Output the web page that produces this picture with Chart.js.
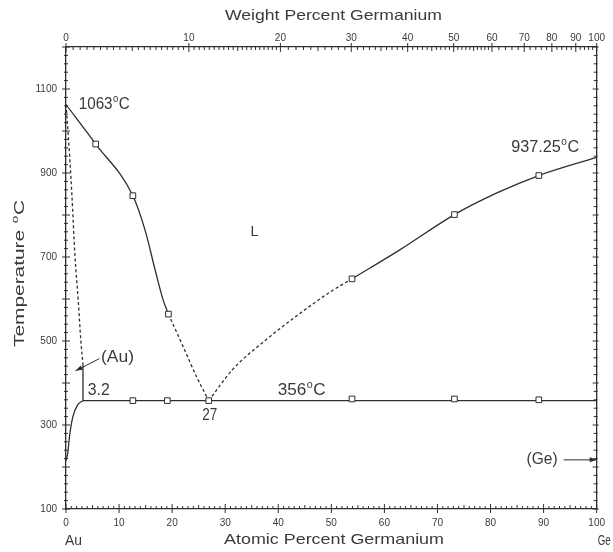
<!DOCTYPE html>
<html><head><meta charset="utf-8">
<script src="https://cdn.jsdelivr.net/npm/chart.js@4/dist/chart.umd.min.js"></script>
<style>html,body{margin:0;padding:0;background:#fff}canvas{display:block}</style>
</head><body>
<canvas id="c" width="613" height="552"></canvas>
<script>
// ---------- data (atomic % Ge, temperature °C) ----------
const liqLeftX   = [0, 5.6, 12.6, 14.9, 16.8, 18.3, 19.3];
const liqLeftT   = [1063, 969, 846, 764, 669, 598, 564];
const liqLeftDashX = [19.3, 22.1, 24.6, 26.9];
const liqLeftDashT = [564, 486, 415, 358];
const liqRightDashX = [26.9, 31.4, 37.7, 44.0, 50.3, 53.9];
const liqRightDashT = [358, 432, 503, 565, 621, 648];
const liqRightX  = [53.9, 62.9, 73.2, 81.1, 89.1, 100];
const liqRightT  = [648, 717, 801, 852, 894, 937.25];
const eutecticX  = [3.2, 100];
const eutecticT  = [358, 358];
const solvusX    = [0, 0.34, 0.66, 1.3, 2.2, 3.2];
const solvusT    = [215, 234, 273, 320, 348, 358];
const retroX     = [3.2, 3.2];
const retroT     = [358, 444];
const solidusX   = [0, 0.4, 1.1, 1.7, 2.3, 2.8, 3.2];
const solidusT   = [1063, 995, 850, 700, 598, 500, 444];
const markerX    = [5.6, 12.6, 19.3, 12.6, 19.1, 26.9, 53.9, 73.2, 89.1, 53.9, 73.2, 89.1];
const markerT    = [969, 846, 564, 358, 358, 358, 648, 801, 894, 362, 362, 360];
// tick labels
const atTicks    = [0, 10, 20, 30, 40, 50, 60, 70, 80, 90, 100];
const wtTicks    = [0, 10, 20, 30, 40, 50, 60, 70, 80, 90, 100];
const tempTicks  = [100, 300, 500, 700, 900, 1100];

// ---------- helpers ----------
const INK = '#2e2e2e';
const TXT = '#3a3a3a';
const FONT = '"Liberation Sans", Arial, sans-serif';
const pts = (xs, ts) => xs.map((x, i) => ({x, y: ts[i]}));
// weight % Ge -> atomic % Ge (Au 196.97, Ge 72.63)
const wtToAt = w => { if (w <= 0) return 0; if (w >= 100) return 100; const g = w / 72.63, a = (100 - w) / 196.97; return 100 * g / (g + a); };

const wtMinor = [];
for (let w = 0; w <= 20; w += 0.5) wtMinor.push(w);
for (let w = 21; w <= 60; w += 1) wtMinor.push(w);
for (let w = 62; w <= 100; w += 2) wtMinor.push(w);

const line = (xs, ts, dashed) => ({
  data: pts(xs, ts), showLine: true, borderColor: INK, borderWidth: 1.3,
  borderDash: dashed ? [3, 2.5] : [], pointRadius: 0, cubicInterpolationMode: 'monotone', fill: false
});

// draw text scaled horizontally to a target width; parts = [[str, sup?], ...]
function drawParts(ctx, parts, x, yMid, size, targetW, align) {
  const supSize = Math.round(size * 0.62);
  let w = 0;
  parts.forEach(([s, sup]) => { ctx.font = (sup ? supSize : size) + 'px ' + FONT; w += ctx.measureText(s).width + (sup ? 1 : 0); });
  const sx = targetW ? targetW / w : 1;
  ctx.save();
  let x0 = x;
  if (align === 'center') x0 = x - w * sx / 2;
  ctx.translate(x0, yMid);
  ctx.scale(sx, 1);
  ctx.textBaseline = 'middle';
  ctx.textAlign = 'left';
  ctx.fillStyle = TXT;
  let cx = 0;
  parts.forEach(([s, sup]) => {
    ctx.font = (sup ? supSize : size) + 'px ' + FONT;
    ctx.fillText(s, cx + (sup ? 0.5 : 0), sup ? -size * 0.32 : 0);
    cx += ctx.measureText(s).width + (sup ? 1 : 0);
  });
  ctx.restore();
}

function arrow(ctx, x1, y1, x2, y2) {
  ctx.beginPath(); ctx.moveTo(x1, y1); ctx.lineTo(x2, y2); ctx.stroke();
  const ang = Math.atan2(y2 - y1, x2 - x1), L = 7, W = 2.5;
  ctx.beginPath();
  ctx.moveTo(x2, y2);
  ctx.lineTo(x2 - L * Math.cos(ang) + W * Math.sin(ang), y2 - L * Math.sin(ang) - W * Math.cos(ang));
  ctx.lineTo(x2 - L * Math.cos(ang) - W * Math.sin(ang), y2 - L * Math.sin(ang) + W * Math.cos(ang));
  ctx.closePath(); ctx.fill();
}

const decor = {
  id: 'decor',
  afterDraw(chart) {
    const {ctx, chartArea: a, scales} = chart;
    const X = scales.x, Y = scales.y;
    const px = v => X.getPixelForValue(v), py = t => Y.getPixelForValue(t);
    ctx.save();
    ctx.strokeStyle = INK; ctx.fillStyle = INK; ctx.lineWidth = 1;
    const seg = (x1, y1, x2, y2) => { ctx.beginPath(); ctx.moveTo(x1, y1); ctx.lineTo(x2, y2); ctx.stroke(); };
    // bottom axis ticks (atomic %)
    for (let v = 0; v <= 100; v++) {
      const x = px(v), major = v % 10 === 0, mid = v % 5 === 0;
      seg(x, a.bottom + (major ? 4 : 0), x, a.bottom - (major ? 5 : mid ? 4 : 3));
    }
    // top axis ticks (weight %)
    wtMinor.forEach(w => {
      const x = px(wtToAt(w)), major = wtTicks.includes(w), mid = w % 5 === 0;
      seg(x, a.top - (major ? 4 : 0), x, a.top + (major ? 5 : mid ? 4 : 3));
    });
    // left/right temperature ticks
    for (let t = 100; t <= 1200; t += 20) {
      const y = py(t), major = t % 100 === 0;
      seg(a.left - (major ? 4 : 2), y, a.left + (major ? 4 : 2), y);
      seg(a.right - (major ? 4 : 3), y, a.right + (major ? 2 : 1), y);
    }
    // arrows
    ctx.lineWidth = 1;
    arrow(ctx, px(6.3), py(458), px(1.8), py(429));
    arrow(ctx, px(93.8), py(217), px(100), py(217));
    // annotations
    drawParts(ctx, [['1063', 0], ['o', 1], ['C', 0]], px(2.4), py(1063), 16, 51);
    drawParts(ctx, [['937.25', 0], ['o', 1], ['C', 0]], px(83.9), py(960), 16, 68);
    drawParts(ctx, [['L', 0]], px(35.5), py(760), 15, 8, 'center');
    drawParts(ctx, [['356', 0], ['o', 1], ['C', 0]], px(39.9), py(382), 16, 48);
    drawParts(ctx, [['3.2', 0]], px(4.1), py(382), 16, 22);
    drawParts(ctx, [['27', 0]], px(27.1), py(323), 16, 15, 'center');
    drawParts(ctx, [['(Au)', 0]], px(6.6), py(460), 16, 33);
    drawParts(ctx, [['(Ge)', 0]], px(86.8), py(217), 16, 31);
    // axis end labels and titles
    drawParts(ctx, [['Au', 0]], a.left - 1, a.bottom + 32, 15, 17);
    drawParts(ctx, [['Ge', 0]], a.right + 1, a.bottom + 32, 15, 13);
    drawParts(ctx, [['Atomic Percent Germanium', 0]], 224, a.bottom + 31, 15, 220);
    drawParts(ctx, [['Weight Percent Germanium', 0]], 225, 16, 15, 217);
    ctx.save();
    ctx.translate(20, 347);
    ctx.rotate(-Math.PI / 2);
    drawParts(ctx, [['Temperature ', 0], ['o', 1], ['C', 0]], 0, 0, 14, 147);
    ctx.restore();
    ctx.restore();
  }
};

new Chart(document.getElementById('c'), {
  type: 'scatter',
  data: {
    datasets: [
      { data: pts(markerX, markerT), showLine: false, pointStyle: 'rect', pointRadius: 4,
        pointBackgroundColor: '#fff', pointBorderColor: INK, pointBorderWidth: 1 },
      line(liqLeftX, liqLeftT, false),
      line(liqLeftDashX, liqLeftDashT, true),
      line(liqRightDashX, liqRightDashT, true),
      line(liqRightX, liqRightT, false),
      line(eutecticX, eutecticT, false),
      line(solvusX, solvusT, false),
      line(retroX, retroT, false),
      line(solidusX, solidusT, true)
    ]
  },
  options: {
    responsive: false, animation: false, devicePixelRatio: 1,
    layout: { padding: 0 },
    plugins: { legend: { display: false }, tooltip: { enabled: false } },
    scales: {
      x: {
        type: 'linear', position: 'bottom', min: 0, max: 100,
        afterBuildTicks: s => { s.ticks = atTicks.map(v => ({value: v})); },
        ticks: { font: { family: FONT, size: 10 }, color: TXT, padding: 8, maxRotation: 0,
                 callback: v => String(v) },
        grid: { display: false, drawTicks: false },
        border: { display: true, color: INK, width: 1.3 },
        afterFit: s => { s.height = 43; }
      },
      xTop: {
        type: 'linear', position: 'top', min: 0, max: 100,
        afterBuildTicks: s => { s.ticks = wtTicks.map(w => ({value: wtToAt(w)})); },
        ticks: { font: { family: FONT, size: 10 }, color: TXT, padding: 3, maxRotation: 0, autoSkip: false,
                 callback: (v, i) => String(wtTicks[i]) },
        grid: { display: false, drawTicks: false },
        border: { display: true, color: INK, width: 1.3 },
        afterFit: s => { s.height = 47; }
      },
      y: {
        type: 'linear', position: 'left', min: 100, max: 1200,
        afterBuildTicks: s => { s.ticks = tempTicks.map(v => ({value: v})); },
        ticks: { font: { family: FONT, size: 10 }, color: TXT, padding: 9, callback: v => String(v) },
        grid: { display: false, drawTicks: false },
        border: { display: true, color: INK, width: 1.3 },
        afterFit: s => { s.width = 66; }
      },
      yRight: {
        type: 'linear', position: 'right', min: 100, max: 1200,
        ticks: { display: false },
        grid: { display: false, drawTicks: false },
        border: { display: true, color: INK, width: 1.3 },
        afterFit: s => { s.width = 16; }
      }
    }
  },
  plugins: [decor]
});
</script>
</body></html>
